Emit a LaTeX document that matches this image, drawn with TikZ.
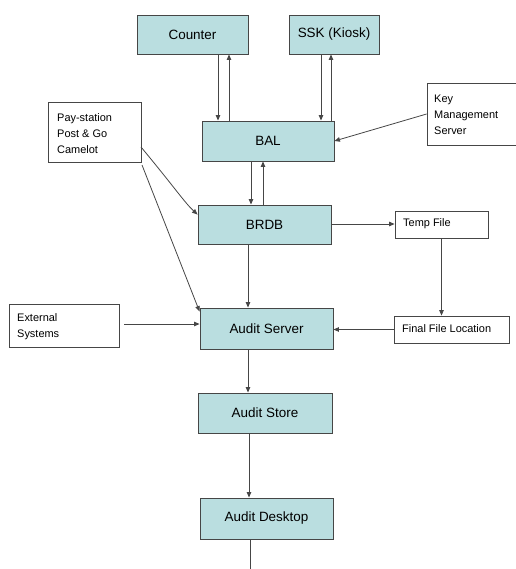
\documentclass[tikz,border=0pt]{standalone}
\usepackage{fontspec}
\setmainfont{Liberation Sans}
\usetikzlibrary{arrows.meta,calc}
\definecolor{boxfill}{RGB}{186,222,224}
\definecolor{edge}{RGB}{70,70,70}
\tikzset{
  mainbox/.style={draw=edge,line width=0.9bp,fill=boxfill,rectangle,inner sep=0pt,font=\fontsize{13.5}{15}\selectfont},
  sidebox/.style={draw=edge,line width=0.8bp,fill=white,rectangle,inner sep=0pt},
  sidetext/.style={font=\fontsize{11}{16}\selectfont,align=left,anchor=north west,inner sep=0pt},
  arr/.style={draw=edge,line width=0.8bp,-{Triangle[length=5.5bp,width=4.5bp]}},
  plain/.style={draw=edge,line width=0.8bp}
}
\begin{document}
\begin{tikzpicture}[x=1bp,y=-1bp]
\useasboundingbox (0,0) rectangle (516,569);
% main boxes
\node[mainbox,minimum width=111bp,minimum height=39bp] (counter) at (192.5,34.5) {Counter};
\node[mainbox,minimum width=90bp,minimum height=39bp] (ssk) at (334,34.5) {SSK (Kiosk)};
\node[mainbox,minimum width=132bp,minimum height=40bp] (bal) at (268,141) {BAL};
\node[mainbox,minimum width=133bp,minimum height=39bp] (brdb) at (264.5,224.5) {BRDB};
\node[mainbox,minimum width=133bp,minimum height=41bp] (aserver) at (266.5,328.5) {Audit Server};
\node[mainbox,minimum width=134bp,minimum height=40bp] (astore) at (265,413) {Audit Store};
\node[mainbox,minimum width=133bp,minimum height=41bp] (adesk) at (266.5,518.5) {Audit Desktop};
% side boxes
\node[sidebox,minimum width=93bp,minimum height=60bp] (pay) at (94.5,132) {};
\node[sidetext] (paytxt) at (57,113) {Pay-station\\Post \& Go\\Camelot};
\node[sidebox,minimum width=95bp,minimum height=62bp] (key) at (474.5,114) {};
\node[sidetext] (keytxt) at (434,95) {Key\\Management\\Server};
\node[sidebox,minimum width=93bp,minimum height=27bp] (temp) at (441.5,224.5) {};
\node[sidetext,anchor=west] (temptxt) at (403,224) {Temp File};
\node[sidebox,minimum width=115bp,minimum height=27bp] (final) at (451.5,329.5) {};
\node[sidetext,anchor=west] (finaltxt) at (402,329) {Final File Location};
\node[sidebox,minimum width=110bp,minimum height=43bp] (ext) at (64,325.5) {};
\node[sidetext] (exttxt) at (17,313) {External\\Systems};
% column coordinates
\coordinate (x218) at (218,0);
\coordinate (x229) at (229,0);
\coordinate (x321) at (321,0);
\coordinate (x331) at (331,0);
\coordinate (x251) at (251,0);
\coordinate (x263) at (263,0);
\coordinate (x248) at (248,0);
\coordinate (x249) at (249,0);
\coordinate (x250) at (250,0);
\coordinate (y224) at (0,224);
\coordinate (y324) at (0,324);
\coordinate (extstart) at (124,324);
\coordinate (paystart1) at (141,147);
\coordinate (paystart2) at (142,165);
\coordinate (bottomend) at (250,569);
% connectors
\draw[arr] (counter.south -| x218) -- (bal.north -| x218);
\draw[arr] (bal.north -| x229) -- (counter.south -| x229);
\draw[arr] (ssk.south -| x321) -- (bal.north -| x321);
\draw[arr] (bal.north -| x331) -- (ssk.south -| x331);
\draw[arr] (bal.south -| x251) -- (brdb.north -| x251);
\draw[arr] (brdb.north -| x263) -- (bal.south -| x263);
\draw[arr] (key.west) -- (bal.east);
\draw[arr] (paystart1) .. controls (175,188) and (185,203) .. ([yshift=-10bp]brdb.north west);
\draw[arr] (paystart2) -- ([yshift=-4bp]aserver.north west);
\draw[arr] (brdb.east |- y224) -- (temp.west |- y224);
\draw[arr] (temp.south) -- (temp.south |- final.north);
\draw[arr] (final.west) -- (aserver.east |- final.west);
\draw[arr] (extstart) -- (aserver.west |- y324);
\draw[arr] (brdb.south -| x248) -- (aserver.north -| x248);
\draw[arr] (aserver.south -| x248) -- (astore.north -| x248);
\draw[arr] (astore.south -| x249) -- (adesk.north -| x249);
\draw[plain] (adesk.south -| x250) -- (bottomend);
\end{tikzpicture}
\end{document}
